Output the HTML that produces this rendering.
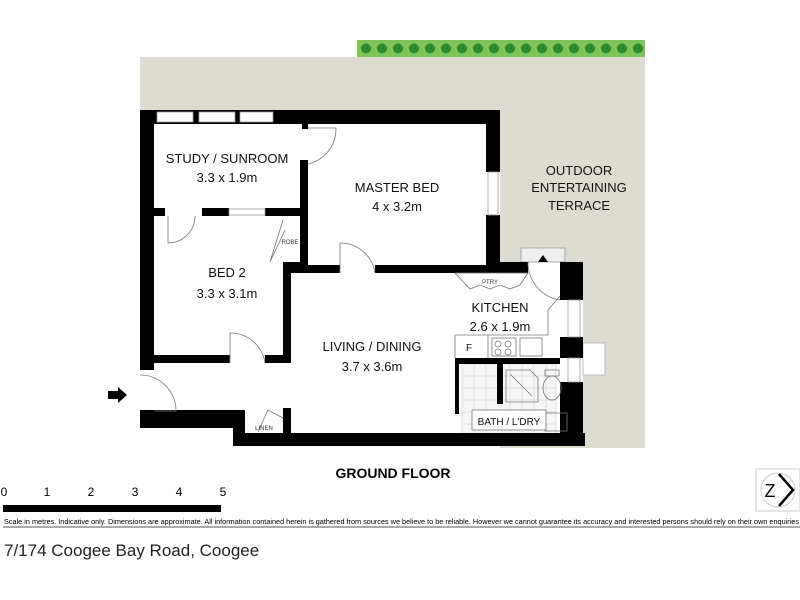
<!DOCTYPE html>
<html><head><style>
body{margin:0;background:#fff;}
svg{display:block;font-family:"Liberation Sans",sans-serif;}
</style></head><body>
<svg width="800" height="600" viewBox="0 0 800 600">
<!-- terrace -->
<rect x="140" y="57" width="505" height="55" fill="#dedcd1"/>
<rect x="500" y="57" width="145" height="391" fill="#dedcd1"/>
<rect x="357" y="40" width="288" height="17" fill="#7fc25a"/>
<g fill="#2e8a2e">
<circle cx="366" cy="48.5" r="5"/><circle cx="382" cy="48.5" r="5"/><circle cx="398" cy="48.5" r="5"/><circle cx="414" cy="48.5" r="5"/><circle cx="430" cy="48.5" r="5"/><circle cx="446" cy="48.5" r="5"/><circle cx="462" cy="48.5" r="5"/><circle cx="478" cy="48.5" r="5"/><circle cx="494" cy="48.5" r="5"/><circle cx="510" cy="48.5" r="5"/><circle cx="526" cy="48.5" r="5"/><circle cx="542" cy="48.5" r="5"/><circle cx="558" cy="48.5" r="5"/><circle cx="574" cy="48.5" r="5"/><circle cx="590" cy="48.5" r="5"/><circle cx="606" cy="48.5" r="5"/><circle cx="622" cy="48.5" r="5"/><circle cx="638" cy="48.5" r="5"/>
</g>
<!-- interior white -->
<rect x="140" y="110" width="360" height="336" fill="#fff"/>
<rect x="440" y="262" width="143" height="184" fill="#fff"/>
<rect x="583" y="343" width="22" height="32" fill="#fff" stroke="#bbb"/>
<rect x="521" y="248" width="44" height="14" fill="#eee" stroke="#aaa"/>
<!-- bath tiles -->
<g stroke="#ddd" stroke-width="1">
<rect x="462" y="364" width="94" height="70" fill="#f6f6f6"/>
<path d="M462 376H556M462 388H556M462 400H556M462 412H556M462 424H556M474 364V434M486 364V434M510 364V434M522 364V434M534 364V434M546 364V434"/>
</g>
<g fill="#000">
<!-- top wall -->
<rect x="140" y="110" width="360" height="14"/>
<!-- left wall -->
<rect x="140" y="110" width="14" height="260"/>
<rect x="140" y="410" width="105" height="18"/>
<rect x="233" y="418" width="12" height="28"/>
<rect x="233" y="433" width="352" height="13"/>
<!-- master right -->
<rect x="486" y="110" width="14" height="62"/>
<rect x="486" y="215" width="14" height="58"/>
<!-- study/master -->
<rect x="300" y="160" width="8" height="110"/>
<rect x="302" y="124" width="6" height="5"/>
<!-- study/bed2 -->
<rect x="154" y="208" width="11" height="8"/>
<rect x="202" y="208" width="27" height="8"/>
<rect x="265" y="208" width="42" height="8"/>
<rect x="283" y="262" width="17" height="8"/>
<!-- master bottom -->
<rect x="283" y="265" width="57" height="8"/>
<rect x="375" y="265" width="153" height="8"/>
<!-- living left -->
<rect x="283" y="265" width="8" height="90"/>
<rect x="283" y="408" width="8" height="26"/>
<rect x="154" y="355" width="76" height="8"/>
<rect x="265" y="355" width="26" height="8"/>
<!-- kitchen -->
<rect x="488" y="262" width="40" height="11"/>
<rect x="560" y="262" width="23" height="38"/>
<rect x="560" y="337" width="23" height="21"/>
<rect x="560" y="382" width="23" height="64"/>
<rect x="455" y="358" width="105" height="6"/>
<rect x="455" y="364" width="4" height="50"/>
<rect x="497" y="364" width="6" height="40"/>
</g>
<!-- windows -->
<g fill="#fff" stroke="#999" stroke-width="0.8">
<rect x="157" y="112" width="36" height="10"/><rect x="199" y="112" width="36" height="10"/><rect x="240" y="112" width="33" height="10"/>
<rect x="488" y="172" width="10" height="43"/>
<rect x="229" y="209" width="36" height="6"/>
<rect x="568" y="300" width="12" height="37"/>
<rect x="568" y="358" width="12" height="24"/>
</g>
<!-- doors -->
<g fill="none" stroke="#777" stroke-width="0.8">
<path d="M308 128H336A36 36 0 0 1 308 164"/>
<path d="M168 216V243A27 27 0 0 0 195 216"/>
<path d="M340 273V243A35 35 0 0 1 375 273"/>
<path d="M230 363V333A35 35 0 0 1 265 363"/>
<path d="M140 375A36 36 0 0 1 176 411H154"/>
<path d="M285 230L270 262M283 220L270 262" />
<path d="M258 432L268 410L283 418"/>
<path d="M528 262A38 38 0 0 0 560 300"/>
<path d="M455 273H528L520 285L510 289L500 285L490 289L480 285L470 289L455 273"/>
<path d="M560 296L548 310V335H455V358M488 335V358"/>
<rect x="492" y="338" width="24" height="18"/><rect x="520" y="338" width="22" height="18"/>
<circle cx="498" cy="344" r="3"/><circle cx="508" cy="344" r="3"/><circle cx="498" cy="352" r="3"/><circle cx="508" cy="352" r="3"/>
<path d="M506 370H530L538 378V402H506Z M510 374L532 396"/>
<rect x="545" y="370" width="14" height="6"/><ellipse cx="552" cy="388" rx="9" ry="12"/>
<rect x="545" y="413" width="22" height="18"/>
<rect x="472" y="410" width="74" height="20" fill="#fff"/>
</g>
<path d="M543 255L538 262H548Z" fill="#000"/>
<path d="M108 391H118V387L127 395L118 403V399H108Z" fill="#000"/>
<!-- labels -->
<g font-size="13" text-anchor="middle" fill="#111">
<text x="227" y="163">STUDY / SUNROOM</text><text x="227" y="182">3.3 x 1.9m</text>
<text x="397" y="192">MASTER BED</text><text x="397" y="211">4 x 3.2m</text>
<text x="579" y="175">OUTDOOR</text><text x="579" y="192">ENTERTAINING</text><text x="579" y="210">TERRACE</text>
<text x="227" y="277">BED 2</text><text x="227" y="298">3.3 x 3.1m</text>
<text x="372" y="351">LIVING / DINING</text><text x="372" y="371">3.7 x 3.6m</text>
<text x="500" y="312">KITCHEN</text><text x="500" y="331">2.6 x 1.9m</text>
<text x="509" y="425" font-size="10">BATH / L'DRY</text>
<text x="469" y="351" font-size="10">F</text>
</g>
<g font-size="6" text-anchor="middle" fill="#333">
<text x="290" y="244">ROBE</text><text x="264" y="430">LINEN</text><text x="490" y="284">PTRY</text>
</g>
<text x="393" y="478" font-size="14" font-weight="bold" text-anchor="middle">GROUND FLOOR</text>
<g font-size="12" text-anchor="middle">
<text x="4" y="496">0</text><text x="47" y="496">1</text><text x="91" y="496">2</text><text x="135" y="496">3</text><text x="179" y="496">4</text><text x="223" y="496">5</text>
</g>
<rect x="3" y="505" width="218" height="7" fill="#000"/>
<text x="4" y="524" font-size="7.6" textLength="795" lengthAdjust="spacingAndGlyphs">Scale in metres. Indicative only. Dimensions are approximate. All information contained herein is gathered from sources we believe to be reliable. However we cannot guarantee its accuracy and interested persons should rely on their own enquiries</text>
<line x1="3" y1="527" x2="800" y2="527" stroke="#555" stroke-width="1"/>
<rect x="756" y="469" width="44" height="42" fill="#fff" stroke="#ccc"/>
<circle cx="778" cy="490" r="17" fill="none" stroke="#ccc"/>
<text x="770" y="497" font-size="18" text-anchor="middle">Z</text>
<path d="M779 474L793 490L779 506" fill="none" stroke="#000" stroke-width="2.5"/>
<text x="4" y="556" font-size="17" fill="#222">7/174 Coogee Bay Road, Coogee</text>
</svg>
</body></html>
